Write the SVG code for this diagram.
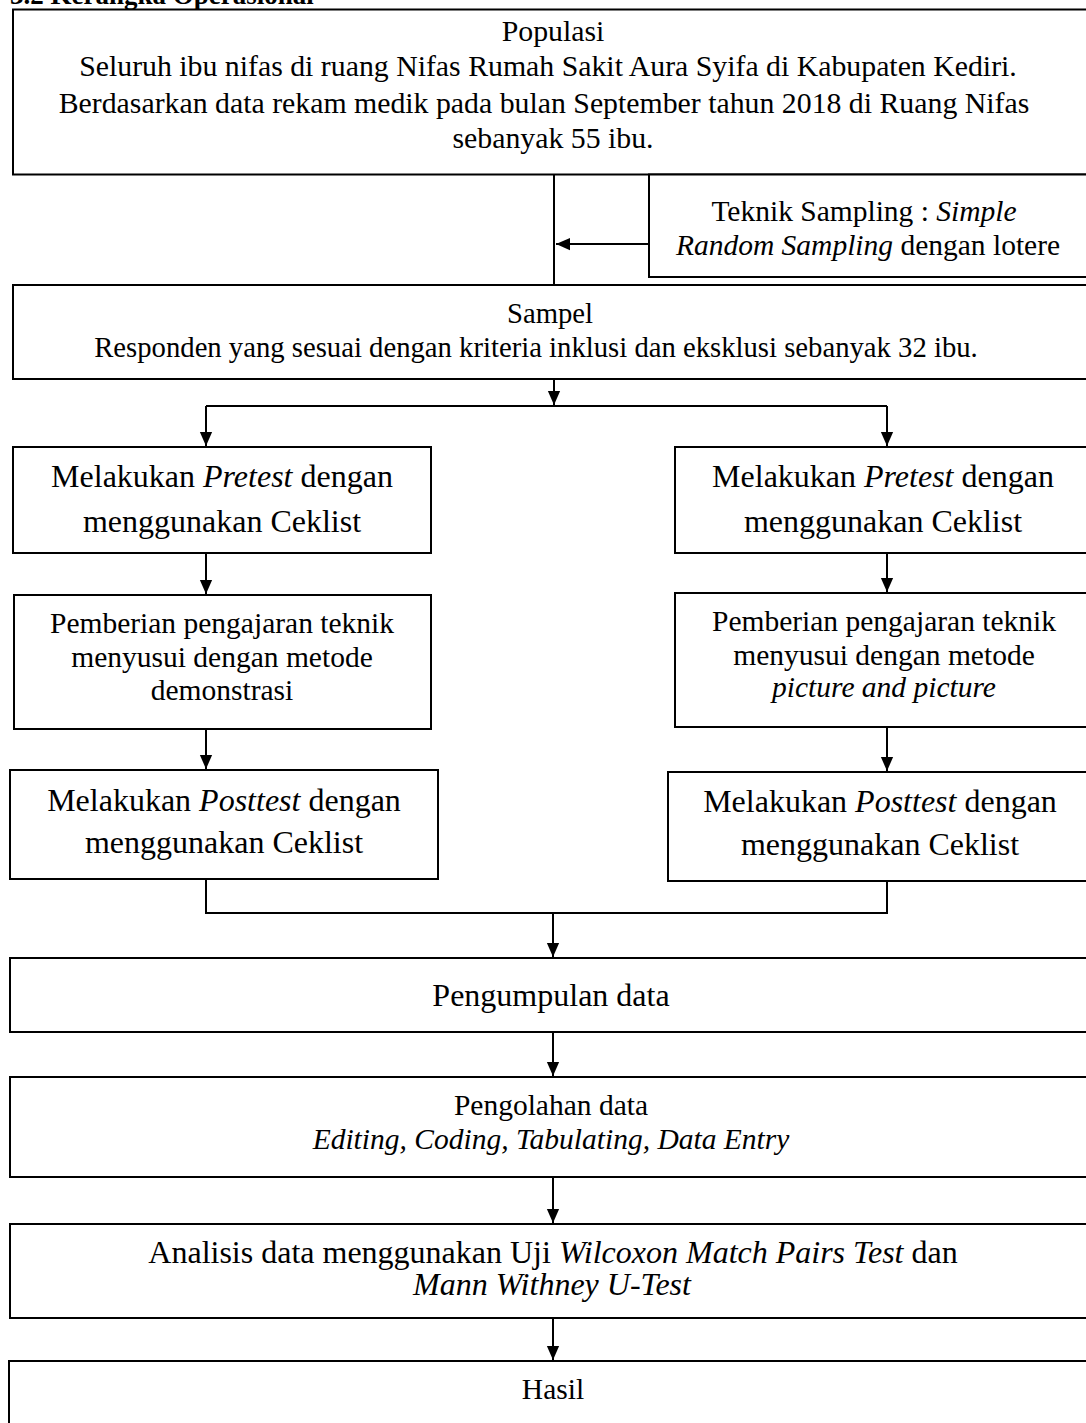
<svg xmlns="http://www.w3.org/2000/svg" width="1086" height="1423" viewBox="0 0 1086 1423">
<defs>
<marker id="ah" markerUnits="userSpaceOnUse" markerWidth="14" markerHeight="16" refX="16" refY="7" viewBox="0 0 16 14" orient="auto">
<path d="M0,0 L16,7 L0,14 Z" fill="#000"/>
</marker>
<style>
rect{fill:#fff;stroke:#000;stroke-width:2}
text{font-family:"Liberation Serif","Times New Roman",serif;fill:#000;text-anchor:middle;font-size:29.5px}
.pop{font-size:29.8px}
.smp{font-size:28.7px}
.big{font-size:32px}
.it{font-style:italic}
#connectors path{fill:none;stroke:#000;stroke-width:2}
</style>
</defs>
<text x="10" y="4" style="text-anchor:start;font-weight:bold;font-size:27px">3.2 Kerangka Operasional</text>
<g id="connectors">
<path d="M554,174 V285"/>
<path d="M649,244 H556" marker-end="url(#ah)"/>
<path d="M554,379 V405" marker-end="url(#ah)"/>
<path d="M206,406 H887"/>
<path d="M206,406 V446" marker-end="url(#ah)"/>
<path d="M887,406 V446" marker-end="url(#ah)"/>
<path d="M206,553 V594" marker-end="url(#ah)"/>
<path d="M887,553 V592" marker-end="url(#ah)"/>
<path d="M206,729 V769" marker-end="url(#ah)"/>
<path d="M887,727 V771" marker-end="url(#ah)"/>
<path d="M206,879 V913 H887 V881"/>
<path d="M553,913 V957" marker-end="url(#ah)"/>
<path d="M553,1032 V1076" marker-end="url(#ah)"/>
<path d="M553,1177 V1223" marker-end="url(#ah)"/>
<path d="M553,1318 V1360" marker-end="url(#ah)"/>
</g>
<g id="populasi">
<rect x="13" y="9.5" width="1090" height="165"/>
<text class="pop" x="553" y="41">Populasi</text>
<text class="pop" x="548" y="76">Seluruh ibu nifas di ruang Nifas Rumah Sakit Aura Syifa di Kabupaten Kediri.</text>
<text class="pop" x="544" y="113">Berdasarkan data rekam medik pada bulan September tahun 2018 di Ruang Nifas</text>
<text class="pop" x="553" y="148">sebanyak 55 ibu.</text>
</g>
<g id="teknik">
<rect x="649" y="174.5" width="450" height="102.5"/>
<text x="864" y="221">Teknik Sampling : <tspan class="it">Simple</tspan></text>
<text x="868" y="255"><tspan class="it">Random Sampling</tspan> dengan lotere</text>
</g>
<g id="sampel">
<rect x="13" y="285" width="1090" height="94"/>
<text class="smp" x="550" y="323">Sampel</text>
<text class="smp" x="536" y="357">Responden yang sesuai dengan kriteria inklusi dan eksklusi sebanyak 32 ibu.</text>
</g>
<g id="pretest-left">
<rect x="13" y="447" width="418" height="106"/>
<text class="big" x="222" y="487">Melakukan <tspan class="it">Pretest</tspan> dengan</text>
<text class="big" x="222" y="532">menggunakan Ceklist</text>
</g>
<g id="pretest-right">
<rect x="675" y="447" width="430" height="106"/>
<text class="big" x="883" y="487">Melakukan <tspan class="it">Pretest</tspan> dengan</text>
<text class="big" x="883" y="532">menggunakan Ceklist</text>
</g>
<g id="pemberian-left">
<rect x="14" y="595" width="417" height="134"/>
<text x="222" y="633">Pemberian pengajaran teknik</text>
<text x="222" y="667">menyusui dengan metode</text>
<text x="222" y="700">demonstrasi</text>
</g>
<g id="pemberian-right">
<rect x="675" y="593" width="430" height="134"/>
<text x="884" y="631">Pemberian pengajaran teknik</text>
<text x="884" y="665">menyusui dengan metode</text>
<text class="it" x="884" y="697">picture and picture</text>
</g>
<g id="posttest-left">
<rect x="10" y="770" width="428" height="109"/>
<text class="big" x="224" y="811">Melakukan <tspan class="it">Posttest</tspan> dengan</text>
<text class="big" x="224" y="853">menggunakan Ceklist</text>
</g>
<g id="posttest-right">
<rect x="668" y="772" width="437" height="109"/>
<text class="big" x="880" y="812">Melakukan <tspan class="it">Posttest</tspan> dengan</text>
<text class="big" x="880" y="855">menggunakan Ceklist</text>
</g>
<g id="pengumpulan">
<rect x="10" y="958" width="1095" height="74"/>
<text class="big" x="551" y="1006">Pengumpulan data</text>
</g>
<g id="pengolahan">
<rect x="10" y="1077" width="1095" height="100"/>
<text x="551" y="1115">Pengolahan data</text>
<text class="it" x="551" y="1149">Editing, Coding, Tabulating, Data Entry</text>
</g>
<g id="analisis">
<rect x="10" y="1224" width="1095" height="94"/>
<text class="big" x="553" y="1263">Analisis data menggunakan Uji <tspan class="it">Wilcoxon Match Pairs Test</tspan> dan</text>
<text class="big it" x="552" y="1295">Mann Withney U-Test</text>
</g>
<g id="hasil">
<rect x="9" y="1361" width="1096" height="80"/>
<text x="553" y="1399">Hasil</text>
</g>
</svg>
